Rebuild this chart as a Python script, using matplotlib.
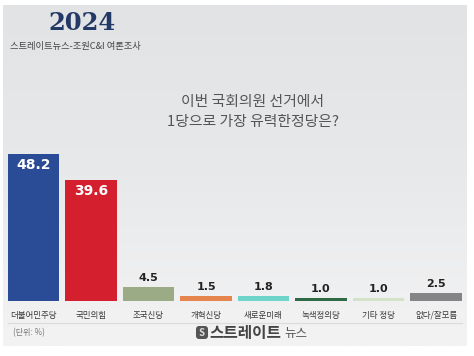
import numpy as np
import matplotlib
matplotlib.use("Agg")
import matplotlib.pyplot as plt
from matplotlib.patches import FancyBboxPatch

plt.rcParams['font.family'] = ['Noto Sans CJK KR', 'DejaVu Sans']

categories = ["더불어민주당", "국민의힘", "조국신당", "개혁신당", "새로운미래", "녹색정의당", "기타 정당", "없다/잘모름"]
values = [48.2, 39.6, 4.5, 1.5, 1.8, 1.0, 1.0, 2.5]
value_labels = ["48.2", "39.6", "4.5", "1.5", "1.8", "1.0", "1.0", "2.5"]
colors = ["#2a4c96", "#d41f2e", "#9aab86", "#e5844c", "#6fd4c9", "#2f6a47", "#d3e2c8", "#858587"]

W, H = 474, 356
fig = plt.figure(figsize=(W / 100, H / 100), dpi=100)
fig.patch.set_facecolor("white")

# background panel with gradient
bg = fig.add_axes([0, 0, 1, 1])
bg.set_xlim(0, W)
bg.set_ylim(H, 0)
bg.axis("off")
grad = np.linspace(0, 1, 200)[:, None]
cmap = matplotlib.colors.LinearSegmentedColormap.from_list("g", ["#e2e3e5", "#e8e9ea", "#f3f3f4"])
bg.imshow(grad, extent=(3, 467, 346, 5), aspect="auto", cmap=cmap, zorder=0)
bg.plot([8, 462], [323, 323], color="#dadbdc", lw=0.8, zorder=1)

# header texts
bg.text(82, 23, "2024", fontsize=17.5, fontweight="bold", family=["DejaVu Serif"],
        color="#243a66", ha="center", va="center", zorder=2)
bg.text(10, 46, "스트레이트뉴스-조원C&I 여론조사", fontsize=6.7, color="#444444",
        ha="left", va="center", zorder=2)
bg.text(253, 102, "이번 국회의원 선거에서", fontsize=10.7, color="#555555",
        ha="center", va="center", zorder=2)
bg.text(253, 122, "1당으로 가장 유력한정당은?", fontsize=10.7, color="#555555",
        ha="center", va="center", zorder=2)
bg.text(13, 333, "(단위: %)", fontsize=5.8, color="#777777", ha="left", va="center", zorder=2)
# logo
bg.add_patch(FancyBboxPatch((196, 326), 12, 13, boxstyle="round,pad=0,rounding_size=3",
                            facecolor="#555555", edgecolor="none", zorder=2))
bg.text(202, 332.5, "S", fontsize=7, color="#dddddd", fontweight="bold",
        ha="center", va="center", zorder=3)
bg.text(209, 333, "스트레이트", fontsize=11.3, fontweight="bold", color="#444444",
        ha="left", va="center", zorder=2)
bg.text(284, 334, "뉴스", fontsize=9, color="#555555", ha="left", va="center", zorder=2)

# bar chart axes
ax = fig.add_axes([4.75 / W, (H - 301) / H, 460 / W, 183 / H])
ax.patch.set_alpha(0)
x = np.arange(len(categories))
ax.bar(x, values, width=0.9, color=colors, zorder=3)
ax.set_xlim(-0.5, len(categories) - 0.5)
ax.set_ylim(0, 60)
for i, (v, lab) in enumerate(zip(values, value_labels)):
    if v > 20:
        ax.text(i, v - 1.3, lab, ha="center", va="top", fontsize=10,
                fontweight="bold", color="white", family=["DejaVu Sans"], zorder=4)
    else:
        ax.text(i, v + 1.3, lab, ha="center", va="bottom", fontsize=8,
                fontweight="bold", color="#222222", family=["DejaVu Sans"], zorder=4)
ax.set_xticks(x)
ax.set_xticklabels(categories, fontsize=6.1, color="#3a3a3a")
ax.tick_params(axis="x", length=0, pad=7)
ax.set_yticks([])
for s in ax.spines.values():
    s.set_visible(False)

fig.savefig("out.png", dpi=100, facecolor="white")
